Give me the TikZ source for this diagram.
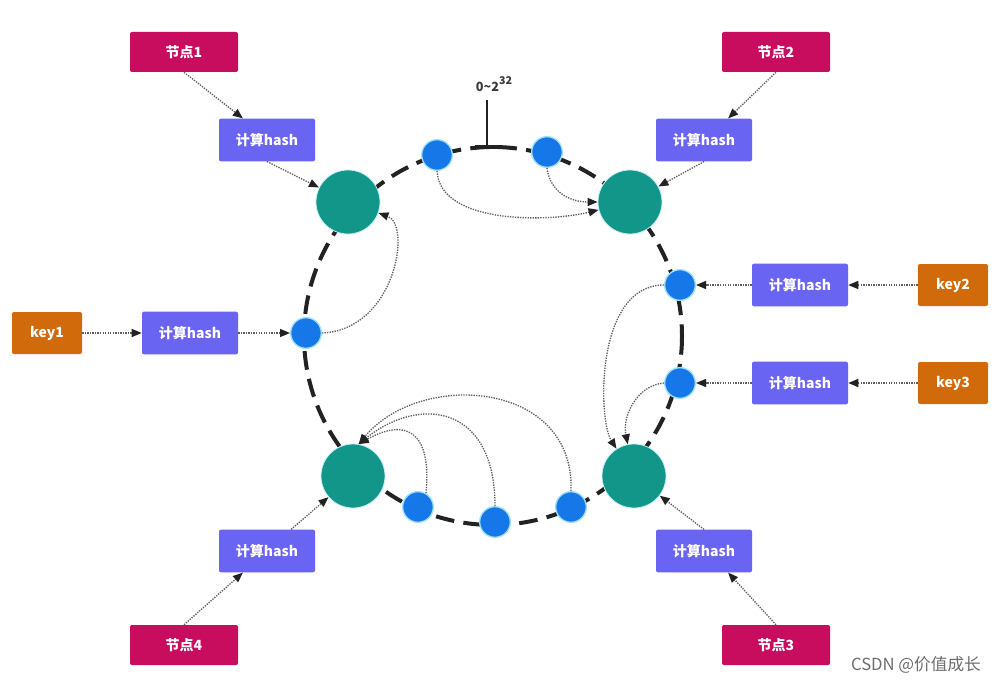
\documentclass[tikz,border=0pt]{standalone}
\usepackage{fontspec}
\newfontfamily\cjk{Noto Sans CJK SC}
\usetikzlibrary{arrows.meta,calc}
\definecolor{crim}{RGB}{200,12,94}
\definecolor{hashc}{RGB}{106,100,242}
\definecolor{keyc}{RGB}{208,106,10}
\definecolor{tealc}{RGB}{18,150,138}
\definecolor{bluec}{RGB}{22,120,232}
\definecolor{glow}{RGB}{160,225,250}
\definecolor{ringc}{RGB}{34,34,34}
\definecolor{arrc}{RGB}{95,95,95}
\definecolor{wmark}{RGB}{110,110,110}
\begin{document}
\begin{tikzpicture}[x=0.75pt,y=-0.75pt,
  box/.style={rectangle, rounded corners=1.5pt, text=white, inner sep=0pt,
    font=\cjk\bfseries\fontsize{10.5}{12}\selectfont},
  nodebox/.style={box, fill=crim, minimum width=81pt, minimum height=30pt},
  hashbox/.style={box, fill=hashc, minimum width=72pt, minimum height=32pt},
  keybox/.style={box, fill=keyc, minimum width=52.5pt, minimum height=31.5pt},
  bigc/.style={circle, fill=tealc, draw=glow!60!white, line width=0.6pt, minimum size=48pt, inner sep=0pt},
  dotc/.style={circle, fill=bluec, draw=glow, line width=1pt, minimum size=23pt, inner sep=0pt},
  arr/.style={draw=arrc, line width=1pt, dash pattern=on 1pt off 0.9pt,
    -{Triangle[length=7.5pt,width=6pt,color=ringc]}},
  ring/.style={draw=ringc, line width=3pt, dash pattern=on 14pt off 7pt}
]
\useasboundingbox[fill=white] (0,0) rectangle (1000,688);

% ring
\draw[ring] (493,336) circle [radius=189];
\coordinate (tickb) at (487,147);
\coordinate (tickt) at (487,100);
\draw[draw=ringc, line width=2.2pt] (tickb) -- (tickt);
\draw[draw=ringc, line width=3pt] ($(tickb)+(-12,0)$) -- ($(tickb)+(12,0)$);
\node[anchor=south, text=ringc!90!white, font=\cjk\bfseries\fontsize{9.5}{11}\selectfont, inner sep=0pt] (lab) at (494,92) {0\textasciitilde 2\raisebox{5.5pt}{\cjk\fontsize{8}{9}\selectfont 32}};

% ring nodes
\node[bigc] (TL) at (348,202) {};
\node[bigc] (TR) at (630,202) {};
\node[bigc] (BL) at (353,476) {};
\node[bigc] (BR) at (634,476) {};
\node[dotc] (d107) at (437,155) {};
\node[dotc] (d73) at (547,152) {};
\node[dotc] (d15) at (680,285) {};
\node[dotc] (dm14) at (680,383) {};
\node[dotc] (d180) at (306,333) {};
\node[dotc] (d246) at (418,507) {};
\node[dotc] (d270) at (495,522) {};
\node[dotc] (d295) at (571,507) {};

% boxes
\node[nodebox] (n1) at (184,52) {节点1};
\node[nodebox] (n2) at (776,52) {节点2};
\node[nodebox] (n4) at (184,645) {节点4};
\node[nodebox] (n3) at (776,645) {节点3};
\node[hashbox] (hTL) at (267,140) {计算hash};
\node[hashbox] (hTR) at (704,140) {计算hash};
\node[hashbox] (hBL) at (267,551) {计算hash};
\node[hashbox] (hBR) at (704,551) {计算hash};
\node[hashbox] (hL) at (190,333) {计算hash};
\node[hashbox] (hK2) at (800,285) {计算hash};
\node[hashbox] (hK3) at (800,383) {计算hash};
\node[keybox] (key1) at (47,333) {key1};
\node[keybox] (key2) at (953,285) {key2};
\node[keybox] (key3) at (953,383) {key3};

% straight arrows
\draw[arr] (key1) -- (hL);
\draw[arr] (hL) -- (d180);
\draw[arr] (key2) -- (hK2);
\draw[arr] (hK2) -- (d15);
\draw[arr] (key3) -- (hK3);
\draw[arr] (hK3) -- (dm14);
\draw[arr] (n1.south) -- ($(hTL.north)!0.5!(hTL.north west)$);
\draw[arr] (hTL.south) -- (TL);
\draw[arr] (n2.south) -- ($(hTR.north)!0.5!(hTR.north east)$);
\draw[arr] (hTR.south) -- (TR);
\draw[arr] (n4.north) -- ($(hBL.south)!0.5!(hBL.south west)$);
\draw[arr] ($(hBL.north)!0.5!(hBL.north east)$) -- (BL);
\draw[arr] (n3.north) -- ($(hBR.south)!0.5!(hBR.south east)$);
\draw[arr] (hBR.north) -- (BR);

% curved arrows
\draw[arr] (d180.east) .. controls (395,330) and (412,225) .. (TL);
\draw[arr] (d107.south) .. controls (440,225) and (550,222) .. (TR);
\draw[arr] (d73.south) .. controls (550,192) and (570,202) .. (TR);
\draw[arr] (d15.west) .. controls (595,285) and (598,420) .. (BR);
\draw[arr] (dm14.west) .. controls (638,385) and (622,415) .. (BR);
\draw[arr] (d246.60) .. controls (432,430) and (405,418) .. (BL.80);
\draw[arr] (d270.north) .. controls (495,405) and (420,395) .. (BL.80);
\draw[arr] (d295.north) .. controls (575,380) and (420,370) .. (BL.80);

% watermark
\node[text=wmark, font=\cjk\fontsize{12.5}{14}\selectfont, inner sep=0pt] (wm) at (916,665) {CSDN @价值成长};
\end{tikzpicture}
\end{document}
